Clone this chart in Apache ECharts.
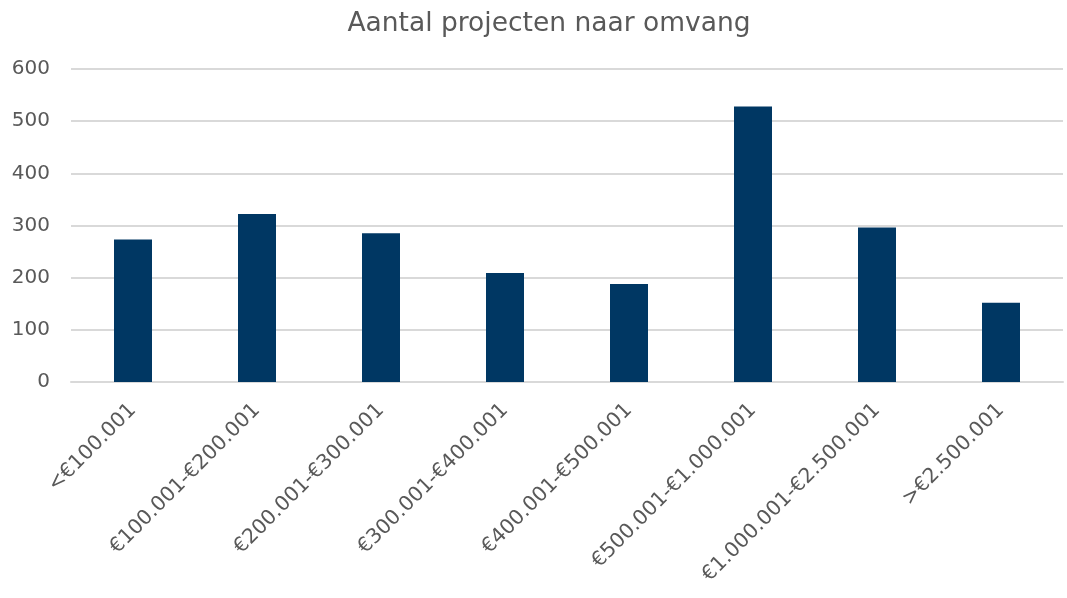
<!doctype html>
<html>
<head>
    <meta charset="utf-8">
    <title>Aantal projecten naar omvang</title>
    <script src="https://cdn.jsdelivr.net/npm/echarts@6/dist/echarts.min.js"></script>
    <style>
        html, body { margin: 0; padding: 0; background: #fff; }
        #chart { width: 1067px; height: 598px; }
    </style>
</head>
<body>
<div id="chart"></div>
<script type="text/javascript">
    var titleText = 'Aantal projecten naar omvang';
    var categories = ['<€100.001', '€100.001-€200.001', '€200.001-€300.001', '€300.001-€400.001',
        '€400.001-€500.001', '€500.001-€1.000.001', '€1.000.001-€2.500.001', '>€2.500.001'];
    var projectCounts = [273, 322, 285, 209, 188, 528, 296, 152];

    var font = 'DejaVu Sans, Verdana, sans-serif';
    var myChart = echarts.init(document.getElementById('chart'));
    var option = {
        backgroundColor: '#ffffff',
        animation: false,
        title: {
            text: titleText,
            left: 544,
            textAlign: 'center',
            top: 6,
            textStyle: { fontFamily: font, fontSize: 26.5, fontWeight: 'normal', color: '#595959' }
        },
        grid: { left: 71, right: 4, top: 69, bottom: 216 },
        xAxis: {
            type: 'category',
            data: categories,
            axisLine: { lineStyle: { color: '#d9d9d9', width: 2 } },
            axisTick: { show: false },
            axisLabel: {
                rotate: 45,
                interval: 0,
                margin: 25,
                fontFamily: font,
                fontSize: 20.5,
                color: '#595959'
            }
        },
        yAxis: {
            type: 'value',
            min: 0,
            max: 600,
            interval: 100,
            axisLine: { show: false },
            axisTick: { show: false },
            splitLine: { lineStyle: { color: '#d9d9d9', width: 2 } },
            axisLabel: { margin: 21, fontFamily: font, fontSize: 20, color: '#595959' }
        },
        series: [{
            name: titleText,
            type: 'bar',
            data: projectCounts,
            barWidth: 38,
            itemStyle: { color: '#003763' }
        }]
    };
    myChart.setOption(option);
</script>
</body>
</html>
